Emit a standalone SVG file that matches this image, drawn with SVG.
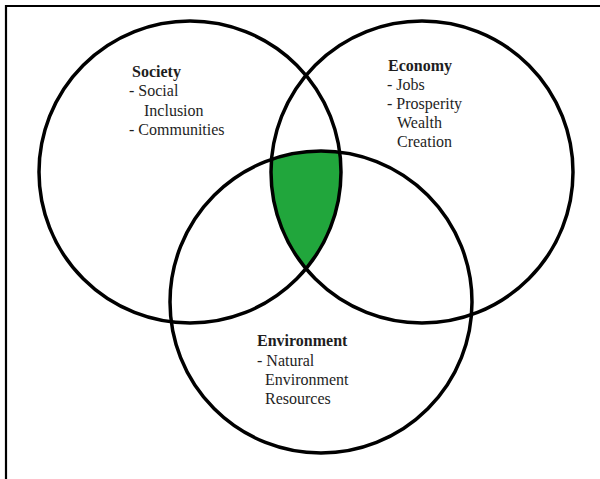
<svg xmlns="http://www.w3.org/2000/svg" width="600" height="479" viewBox="0 0 600 479">
<style>
.ring{fill:none;stroke:#000;stroke-width:3.5}
.t{font-size:16px;fill:#1e1e1e}
.b{font-weight:bold}
</style>
<defs>
<clipPath id="clipS"><circle cx="190" cy="172" r="151"/></clipPath>
<clipPath id="clipE"><circle cx="422" cy="172" r="151"/></clipPath>
</defs>
<rect width="600" height="479" fill="#fff"/>
<path d="M6,479 V6 H600" fill="none" stroke="#000" stroke-width="2.2"/>
<g id="overlap" clip-path="url(#clipS)">
<circle cx="321" cy="302" r="151" fill="#21a63c" clip-path="url(#clipE)"/>
</g>
<g font-family="'Liberation Serif', 'Times New Roman', serif">
<g id="society">
<circle class="ring" cx="190" cy="172" r="151"/>
<text class="t b" x="132" y="77">Society</text>
<text class="t" x="129" y="96">- Social</text>
<text class="t" x="144" y="116">Inclusion</text>
<text class="t" x="129" y="135">- Communities</text>
</g>
<g id="economy">
<circle class="ring" cx="422" cy="172" r="151"/>
<text class="t b" x="388" y="71">Economy</text>
<text class="t" x="387" y="90">- Jobs</text>
<text class="t" x="387" y="109">- Prosperity</text>
<text class="t" x="397" y="128">Wealth</text>
<text class="t" x="397" y="147">Creation</text>
</g>
<g id="environment">
<circle class="ring" cx="321" cy="302" r="151"/>
<text class="t b" x="257" y="346">Environment</text>
<text class="t" x="257" y="366">- Natural</text>
<text class="t" x="265" y="385">Environment</text>
<text class="t" x="265" y="404">Resources</text>
</g>
</g>
<g id="connectors"/>
</svg>
